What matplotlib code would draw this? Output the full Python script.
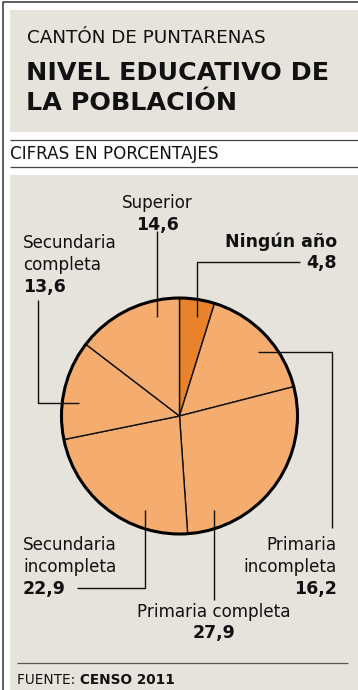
import matplotlib
matplotlib.use("Agg")
import matplotlib.pyplot as plt
from matplotlib.patches import Rectangle, Circle

# data
categories = ["Ningún año", "Primaria incompleta", "Primaria completa",
              "Secundaria incompleta", "Secundaria completa", "Superior"]
values = [4.8, 16.2, 27.9, 22.9, 13.6, 14.6]
value_labels = ["4,8", "16,2", "27,9", "22,9", "13,6", "14,6"]

W, H = 358, 690
BG = "#E6E3DD"
LIGHT = "#F4AC6F"
DARK = "#E9822B"
INK = "#111111"

plt.rcParams["font.family"] = ["DejaVu Sans"]

fig = plt.figure(figsize=(W / 100, H / 100), dpi=100)
ax = fig.add_axes([0, 0, 1, 1])


def Y(y):
    # pixel row (from top) -> data y
    return H - y


def line(pts, lw=1.0, color=INK):
    xs = [p[0] for p in pts]
    ys = [Y(p[1]) for p in pts]
    ax.plot(xs, ys, color=color, lw=lw, solid_capstyle="butt", zorder=5)


# frame and boxes
line([(3, H), (3, 1.5), (W, 1.5)], lw=1.1, color="#333333")
ax.add_patch(Rectangle((10, Y(132)), W - 10, 122, facecolor=BG, edgecolor="none"))
line([(10, 140), (W, 140)], lw=0.9, color="#444444")
line([(10, 167), (W, 167)], lw=0.9, color="#444444")
ax.add_patch(Rectangle((10, 0), W - 10, Y(175), facecolor=BG, edgecolor="none"))
line([(17, 663), (348, 663)], lw=0.9, color="#555555")

# header texts
ax.text(27, Y(43), "CANTÓN DE PUNTARENAS", fontsize=13.2,
        color=INK, va="baseline", ha="left")
ax.text(26, Y(80), "NIVEL EDUCATIVO DE", fontsize=18.3, fontweight="bold",
        color=INK, va="baseline", ha="left")
ax.text(26, Y(110), "LA POBLACIÓN", fontsize=18.3, fontweight="bold",
        color=INK, va="baseline", ha="left")
ax.text(10, Y(159), "CIFRAS EN PORCENTAJES", fontsize=12.1, color=INK,
        va="baseline", ha="left")

# pie
cx, cy, r = 179.5, 416, 118
colors = [DARK] + [LIGHT] * (len(values) - 1)
ax.pie(values, colors=colors, startangle=90, counterclock=False,
       center=(cx, Y(cy)), radius=r,
       wedgeprops=dict(edgecolor=INK, linewidth=1.0))
ax.add_patch(Circle((cx, Y(cy)), r, fill=False, edgecolor="black", lw=2.2, zorder=4))

ax.set_xlim(0, W)
ax.set_ylim(0, H)
ax.set_aspect("auto")
ax.axis("off")

# leader lines
line([(157, 231), (157, 317)])
line([(300, 262), (197, 262), (197, 317)])
line([(37.5, 300), (37.5, 403), (79, 403)])
line([(77, 588), (144.5, 588), (144.5, 510)])
line([(213.5, 600), (213.5, 510)])
line([(331.5, 528), (331.5, 351.5), (258, 351.5)])

LS = 12.1
NS = 12.5


def label(x, ys, lines, ha):
    for (txt, bold), y in zip(lines, ys):
        ax.text(x, Y(y), txt, fontsize=NS if bold else LS,
                fontweight="bold" if bold else "normal",
                color=INK, ha=ha, va="baseline")


label(337, [247, 268], [(categories[0], True), (value_labels[0], True)], "right")
label(337, [550, 572, 594], [("Primaria", False), ("incompleta", False),
                             (value_labels[1], True)], "right")
label(214, [617, 638], [(categories[2], False), (value_labels[2], True)], "center")
label(23, [550, 572, 594], [("Secundaria", False), ("incompleta", False),
                            (value_labels[3], True)], "left")
label(23, [248, 270, 292], [("Secundaria", False), ("completa", False),
                            (value_labels[4], True)], "left")
label(157, [208, 230], [(categories[5], False), (value_labels[5], True)], "center")

# source
t = ax.text(17, Y(684), "FUENTE: ", fontsize=9.8,
            color=INK, va="baseline", ha="left")
fig.canvas.draw()
bb = t.get_window_extent()
x_end = ax.transData.inverted().transform((bb.x1, bb.y0))[0]
ax.text(x_end, Y(684), "CENSO 2011", fontsize=9.8, fontweight="bold",
        color=INK, va="baseline", ha="left")

fig.savefig("out.png", dpi=100, facecolor="white")
